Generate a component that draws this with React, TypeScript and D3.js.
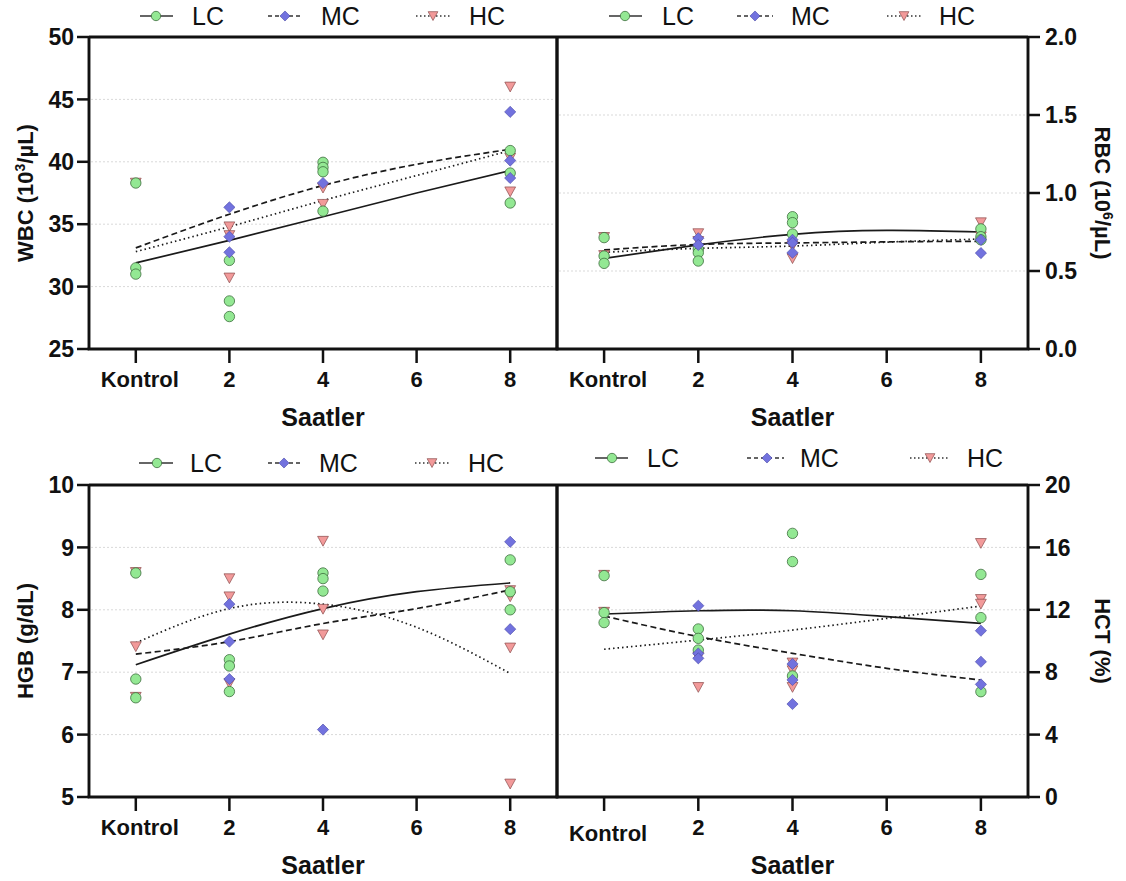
import React from 'react';
import * as d3 from 'd3';

// sampling hours (Kontrol plotted at 0)
const groupHours = [0, 2, 4, 8];
const fitHours = [0, 2, 4, 6, 8];
const xTickValues = [0, 2, 4, 6, 8];
const xTickLabels = ['Kontrol', '2', '4', '6', '8'];
const seriesNames = ['LC', 'MC', 'HC'];

// WBC (10^3/uL) - points per group
const wbcLC = [[38.3, 31.5, 31.0], [32.1, 28.85, 27.6], [39.96, 39.55, 39.2, 36.05], [40.9, 39.1, 36.7]];
const wbcMC = [[], [36.35, 34.0, 32.75], [38.3], [44.0, 40.1, 38.7]];
const wbcHC = [[38.3], [34.8, 34.1, 30.7], [37.9, 36.6], [46.0, 40.3, 37.6]];
const wbcFitLC = [31.9, 33.7, 35.6, 37.5, 39.3];
const wbcFitMC = [33.1, 35.8, 38.1, 39.8, 41.0];
const wbcFitHC = [32.8, 34.8, 36.9, 38.9, 40.9];
const wbcTicks = [25, 30, 35, 40, 45, 50];

// RBC (10^6/uL)
const rbcLC = [[0.714, 0.596, 0.549], [0.64, 0.617, 0.564], [0.848, 0.81, 0.737], [0.77, 0.72, 0.7]];
const rbcMC = [[], [0.71, 0.667], [0.7, 0.681, 0.617], [0.7, 0.615]];
const rbcHC = [[0.716, 0.6], [0.74, 0.69], [0.66, 0.58], [0.81, 0.72]];
const rbcFitLC = [0.581, 0.667, 0.735, 0.76, 0.75];
const rbcFitMC = [0.635, 0.67, 0.68, 0.687, 0.69];
const rbcFitHC = [0.62, 0.645, 0.66, 0.685, 0.705];
const rbcTicks = [0, 0.5, 1.0, 1.5, 2.0];

// HGB (g/dL)
const hgbLC = [[8.59, 6.89, 6.59], [7.2, 7.1, 6.69], [8.59, 8.5, 8.3], [8.8, 8.29, 8.0]];
const hgbMC = [[], [8.09, 7.49, 6.89], [6.08], [9.09, 7.69]];
const hgbHC = [[8.6, 7.41, 6.6], [8.5, 8.21, 6.82], [9.1, 8.01, 7.6], [8.31, 8.21, 7.39, 5.21]];
const hgbFitLC = [7.12, 7.61, 8.02, 8.29, 8.43];
const hgbFitMC = [7.29, 7.49, 7.78, 8.02, 8.32];
const hgbFitHC = [7.47, 8.02, 8.09, 7.72, 6.98];
const hgbTicks = [5, 6, 7, 8, 9, 10];

// HCT (%)
const hctLC = [[14.19, 11.82, 11.18], [10.77, 10.17, 9.42], [16.9, 15.09, 7.76], [14.27, 11.5, 6.75]];
const hctMC = [[], [12.26, 9.2, 8.89], [8.53, 7.5, 5.96], [10.66, 8.67, 7.22]];
const hctHC = [[14.22, 11.85], [8.95, 7.03], [8.6, 8.1, 7.03], [16.26, 12.67, 12.37]];
const hctFitLC = [11.73, 11.94, 11.94, 11.56, 11.13];
const hctFitMC = [11.6, 10.28, 9.21, 8.25, 7.5];
const hctFitHC = [9.47, 10.06, 10.7, 11.45, 12.24];
const hctTicks = [0, 4, 8, 12, 16, 20];

const FONT = "'Liberation Sans', Arial, Helvetica, sans-serif";
const INK = '#111';

const fitDash: Record<string, string | undefined> = { LC: undefined, MC: '6,3.5', HC: '1.5,3' };

function Marker({ s, x, y, k = 1 }: { s: string; x: number; y: number; k?: number }) {
  if (s === 'LC') {
    return <circle cx={x} cy={y} r={5.2 * k} fill="#93e893" stroke="#3f6f3f" strokeWidth={0.8} />;
  }
  if (s === 'MC') {
    const h = 5.6 * k;
    return (
      <path
        d={`M${x},${y - h}L${x + h},${y}L${x},${y + h}L${x - h},${y}Z`}
        fill="#7272de"
        stroke="#4646a6"
        strokeWidth={0.6}
      />
    );
  }
  const w = 5.4 * k;
  return (
    <path
      d={`M${x - w},${y - 4.8 * k}L${x + w},${y - 4.8 * k}L${x},${y + 5 * k}Z`}
      fill="#f29a9a"
      stroke="#8a4a4a"
      strokeWidth={0.7}
    />
  );
}

type Panel = {
  key: string;
  x0: number;
  x1: number;
  top: number;
  bottom: number;
  domain: [number, number];
  ticks: number[];
  fmt: (v: number) => string;
  side: 'left' | 'right';
  title: [string, string, string];
  points: Record<string, number[][]>;
  fits: Record<string, number[]>;
  legend: { line: [number, number]; mark: number; text: number }[];
  legendY: number;
  kontrolDy: number;
};

const panels: Panel[] = [
  {
    key: 'wbc', x0: 89, x1: 557, top: 37, bottom: 349, domain: [25, 50], ticks: wbcTicks,
    fmt: d3.format('d'), side: 'left', title: ['WBC (10', '3', '/µL)'],
    points: { LC: wbcLC, MC: wbcMC, HC: wbcHC }, fits: { LC: wbcFitLC, MC: wbcFitMC, HC: wbcFitHC },
    legend: [
      { line: [140, 173], mark: 156, text: 192 },
      { line: [268, 303], mark: 285, text: 321 },
      { line: [416, 450], mark: 433, text: 469 },
    ],
    legendY: 16, kontrolDy: 0,
  },
  {
    key: 'rbc', x0: 557, x1: 1028, top: 37, bottom: 349, domain: [0, 2], ticks: rbcTicks,
    fmt: d3.format('.1f'), side: 'right', title: ['RBC (10', '6', '/µL)'],
    points: { LC: rbcLC, MC: rbcMC, HC: rbcHC }, fits: { LC: rbcFitLC, MC: rbcFitMC, HC: rbcFitHC },
    legend: [
      { line: [609, 642], mark: 625, text: 662 },
      { line: [737, 773], mark: 755, text: 791 },
      { line: [887, 921], mark: 904, text: 939 },
    ],
    legendY: 16, kontrolDy: 0,
  },
  {
    key: 'hgb', x0: 89, x1: 557, top: 485, bottom: 797, domain: [5, 10], ticks: hgbTicks,
    fmt: d3.format('d'), side: 'left', title: ['HGB (g/dL)', '', ''],
    points: { LC: hgbLC, MC: hgbMC, HC: hgbHC }, fits: { LC: hgbFitLC, MC: hgbFitMC, HC: hgbFitHC },
    legend: [
      { line: [139, 173], mark: 157, text: 190 },
      { line: [268, 301], mark: 284, text: 319 },
      { line: [415, 450], mark: 432, text: 468 },
    ],
    legendY: 463, kontrolDy: 0,
  },
  {
    key: 'hct', x0: 557, x1: 1028, top: 485, bottom: 797, domain: [0, 20], ticks: hctTicks,
    fmt: d3.format('d'), side: 'right', title: ['HCT (%)', '', ''],
    points: { LC: hctLC, MC: hctMC, HC: hctHC }, fits: { LC: hctFitLC, MC: hctFitMC, HC: hctFitHC },
    legend: [
      { line: [595, 628], mark: 612, text: 647 },
      { line: [747, 784], mark: 767, text: 800 },
      { line: [910, 950], mark: 930, text: 967 },
    ],
    legendY: 458, kontrolDy: 6,
  },
];

function PanelView({ p }: { p: Panel }) {
  const x = d3.scaleLinear().domain([-1, 9]).range([p.x0, p.x1]);
  const y = d3.scaleLinear().domain(p.domain).range([p.bottom, p.top]);
  const line = d3
    .line<number>()
    .x((_, i) => x(fitHours[i]))
    .y((d) => y(d))
    .curve(d3.curveNatural);
  const axisX = p.side === 'left' ? p.x0 : p.x1;
  const midY = (p.top + p.bottom) / 2;
  const titleX = p.side === 'left' ? 25 : 1103;
  const drawOrder = ['HC', 'LC', 'MC'];
  const fw = 2.9;

  return (
    <g>
      {/* grid */}
      {p.ticks.slice(1, -1).map((t) => (
        <line key={'g' + t} x1={p.x0 + 2} x2={p.x1 - 2} y1={y(t)} y2={y(t)} stroke="#d9d9d9" strokeWidth={1} strokeDasharray="2,2" />
      ))}
      {/* fitted curves */}
      {seriesNames.map((s) => (
        <path key={'f' + s} d={line(p.fits[s]) || ''} fill="none" stroke="#1a1a1a" strokeWidth={1.7} strokeDasharray={fitDash[s]} />
      ))}
      {/* points */}
      {drawOrder.map((s) =>
        p.points[s].flatMap((vals, gi) =>
          vals.map((v, j) => <Marker key={s + gi + '-' + j} s={s} x={x(groupHours[gi])} y={y(v)} />)
        )
      )}
      {/* frame */}
      <line x1={p.x0} x2={p.x1} y1={p.top} y2={p.top} stroke={INK} strokeWidth={fw} />
      <line x1={p.x0 - 1.4} x2={p.x1 + 1.4} y1={p.bottom} y2={p.bottom} stroke={INK} strokeWidth={fw} />
      <line x1={p.x0} x2={p.x0} y1={p.top} y2={p.bottom} stroke={INK} strokeWidth={fw} />
      <line x1={p.x1} x2={p.x1} y1={p.top} y2={p.bottom} stroke={INK} strokeWidth={fw} />
      {/* y axis ticks */}
      {p.ticks.map((t) => (
        <g key={'t' + t}>
          <line
            x1={axisX}
            x2={p.side === 'left' ? axisX - 12 : axisX + 12}
            y1={y(t)}
            y2={y(t)}
            stroke={INK}
            strokeWidth={2.5}
          />
          <text
            x={p.side === 'left' ? axisX - 15 : axisX + 17}
            y={y(t)}
            dy="0.36em"
            textAnchor={p.side === 'left' ? 'end' : 'start'}
            fontSize={23}
            fontWeight="bold"
            fontFamily={FONT}
            fill={INK}
          >
            {p.fmt(t)}
          </text>
        </g>
      ))}
      {/* x axis ticks */}
      {xTickValues.map((t, i) => (
        <g key={'x' + t}>
          <line x1={x(t)} x2={x(t)} y1={p.bottom} y2={p.bottom + 14} stroke={INK} strokeWidth={2.5} />
          <text
            x={x(t) + (i === 0 ? 4 : 0)}
            y={p.bottom + 38 + (i === 0 ? p.kontrolDy : 0)}
            textAnchor="middle"
            fontSize={22}
            fontWeight="bold"
            fontFamily={FONT}
            fill={INK}
          >
            {xTickLabels[i]}
          </text>
        </g>
      ))}
      {/* x title */}
      <text x={x(4)} y={p.bottom + 77} textAnchor="middle" fontSize={25} fontWeight="bold" fontFamily={FONT} fill={INK}>
        Saatler
      </text>
      {/* y title */}
      <text
        transform={`translate(${titleX},${midY}) rotate(${p.side === 'left' ? -90 : 90})`}
        textAnchor="middle"
        dy="0.36em"
        fontSize={22}
        fontWeight="bold"
        fontFamily={FONT}
        fill={INK}
      >
        {p.title[0]}
        {p.title[1] ? (
          <>
            <tspan dy={-8} fontSize={14}>{p.title[1]}</tspan>
            <tspan dy={8}>{p.title[2]}</tspan>
          </>
        ) : null}
      </text>
      {/* legend */}
      {seriesNames.map((s, i) => {
        const l = p.legend[i];
        return (
          <g key={'l' + s}>
            <line x1={l.line[0]} x2={l.line[1]} y1={p.legendY} y2={p.legendY} stroke="#333" strokeWidth={1.5} strokeDasharray={fitDash[s] ? (s === 'MC' ? '4,3' : '1.5,2.5') : undefined} />
            <Marker s={s} x={l.mark} y={p.legendY} k={0.9} />
            <text x={l.text} y={p.legendY} dy="0.36em" fontSize={25} fontFamily={FONT} fill={INK}>
              {s}
            </text>
          </g>
        );
      })}
    </g>
  );
}

export default function App() {
  return (
    <svg
      width={1126}
      height={881}
      style={{ position: 'absolute', left: 0, top: 0, background: '#fff' }}
    >
      <rect width={1126} height={881} fill="#fff" />
      {panels.map((p) => (
        <PanelView key={p.key} p={p} />
      ))}
    </svg>
  );
}
